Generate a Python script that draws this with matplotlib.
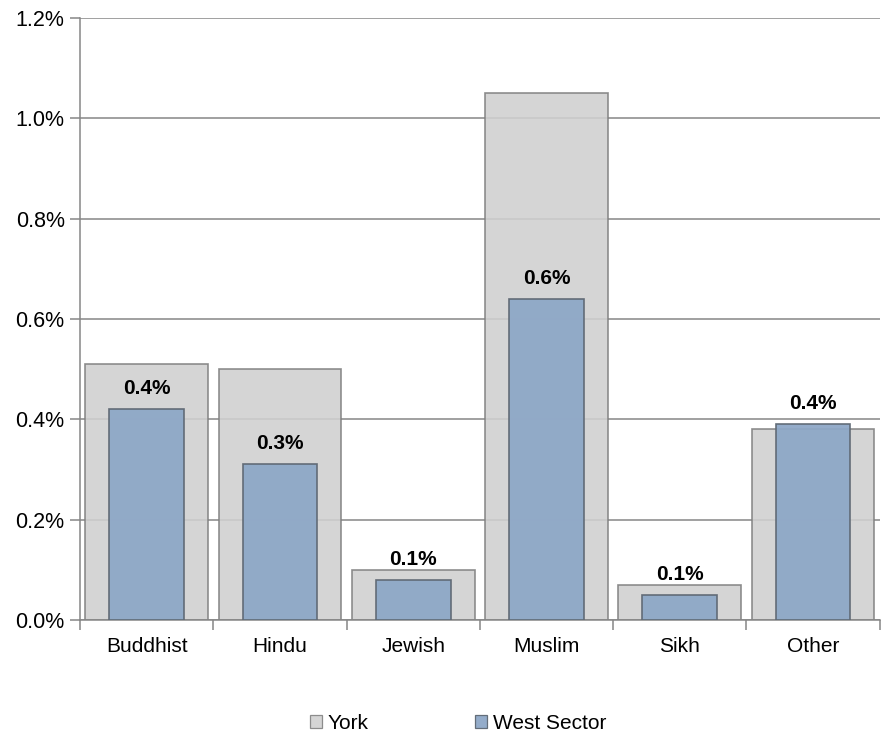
import numpy as np
import matplotlib
matplotlib.use('Agg')
import matplotlib.pyplot as plt
from matplotlib.ticker import FuncFormatter, FixedLocator

plt.rcParams['font.family'] = ['Liberation Sans', 'DejaVu Sans']

categories = ['Buddhist', 'Hindu', 'Jewish', 'Muslim', 'Sikh', 'Other']
york = [0.51, 0.50, 0.10, 1.05, 0.07, 0.38]
west = [0.42, 0.31, 0.08, 0.64, 0.05, 0.39]

fig = plt.figure(figsize=(8.85, 7.38), dpi=100)
ax = fig.add_axes([0.0904, 0.16, 0.9036, 0.8156])

x = np.arange(len(categories))

ax.bar(x, york, width=0.92, color='#D0D0D0', edgecolor='#7F7F7F',
       linewidth=1.2, alpha=0.88, zorder=2, label='York')
ax.bar(x, west, width=0.56, color='#8EA8C7', edgecolor='#5E6873',
       linewidth=1.2, alpha=0.95, zorder=3, label='West Sector')

for xi, v in zip(x, west):
    ax.annotate('%.1f%%' % v, (xi, v), xytext=(0, 8), textcoords='offset points',
                ha='center', va='bottom', fontsize=15, fontweight='bold', zorder=5)

ax.set_xlim(-0.5, 5.5)
ax.set_ylim(0, 1.2)
ax.set_yticks(np.arange(0, 1.21, 0.2))
ax.yaxis.set_major_formatter(FuncFormatter(lambda v, p: '%.1f%%' % v))
ax.grid(axis='y', color='#868686', linewidth=1.1, zorder=1)
ax.set_axisbelow(True)

ax.set_xticks(x)
ax.set_xticklabels(categories)
ax.xaxis.set_minor_locator(FixedLocator(np.arange(-0.5, 5.6, 1)))
ax.tick_params(axis='x', which='major', length=0, pad=12, labelsize=15)
ax.tick_params(axis='x', which='minor', length=7, color='#868686', width=1.1)
ax.tick_params(axis='y', length=7, color='#868686', width=1.1, pad=4, labelsize=15.5)

for s in ['top', 'right']:
    ax.spines[s].set_visible(False)
for s in ['left', 'bottom']:
    ax.spines[s].set_color('#868686')
    ax.spines[s].set_linewidth(1.1)

leg = fig.legend(loc='center', bbox_to_anchor=(0.5175, 0.02), ncol=2, frameon=False,
                 fontsize=15, handlelength=0.6, handleheight=0.6, handletextpad=0.25,
                 columnspacing=5.1)
for h in leg.legend_handles:
    h.set_linewidth(0.9)

fig.savefig('out.png', dpi=100)
